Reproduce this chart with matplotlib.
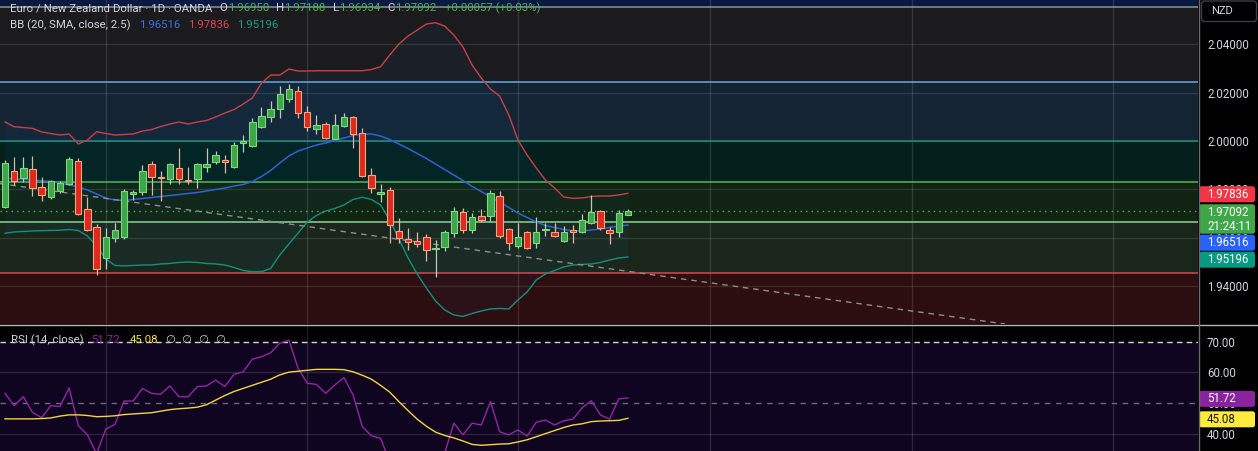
import matplotlib
matplotlib.use("Agg")
import matplotlib.pyplot as plt
import numpy as np
from matplotlib.lines import Line2D
from matplotlib.patches import FancyBboxPatch
from matplotlib.transforms import IdentityTransform

plt.rcParams["font.family"] = ["Roboto", "DejaVu Sans"]

# ---- daily EUR/NZD candles (oldest -> newest) ----
opens = [1.97280, 1.98770, 1.98456, 1.98828, 1.98083, 1.97694, 1.97942, 1.98207, 1.99184, 1.97172,
         1.96427, 1.95144, 1.95997, 1.96038, 1.97806, 1.97901, 1.99035, 1.98510, 1.98414, 1.98870,
         1.98385, 1.98414, 1.98903, 1.99151, 1.99213, 1.98911, 1.99905, 1.99793, 2.00580, 2.01006,
         2.01312, 2.01726, 2.02070, 2.01213, 2.00509, 2.00704, 2.00095, 2.00633, 2.00981, 2.00319,
         1.98605, 1.97806, 1.97971, 1.96286, 1.95922, 1.95860, 1.96013, 1.95541, 1.95599, 1.96179,
         1.97048, 1.96328, 1.96883, 1.96883, 1.97711, 1.96344, 1.95665, 1.96220, 1.95765, 1.96328,
         1.96220, 1.95872, 1.96315, 1.96220, 1.96618, 1.97089, 1.96303, 1.96220, 1.96950]
highs = [1.99213, 1.99325, 1.99325, 1.99379, 1.98522, 1.98385, 1.98356, 1.99350, 1.99284, 1.97669,
         1.96564, 1.96386, 1.96618, 1.98013, 1.97971, 1.99006, 1.99172, 1.98770, 1.99102, 1.99698,
         1.98936, 1.99077, 1.99710, 1.99586, 1.99420, 1.99971, 2.00248, 2.00940, 2.01420, 2.01668,
         2.02277, 2.02360, 2.02277, 2.01449, 2.01076, 2.00799, 2.01118, 2.01147, 2.01035, 2.00526,
         1.98870, 1.98207, 1.98083, 1.96800, 1.96386, 1.96233, 1.96150, 1.95901, 1.96315, 1.97255,
         1.97214, 1.97007, 1.97172, 1.97971, 1.97930, 1.96386, 1.96618, 1.96286, 1.96841, 1.96618,
         1.96593, 1.96481, 1.96522, 1.96978, 1.97777, 1.97143, 1.96452, 1.97143, 1.97188]
lows = [1.97226, 1.98178, 1.98315, 1.97723, 1.97516, 1.97611, 1.97860, 1.98166, 1.96936, 1.96286,
        1.94452, 1.94688, 1.95831, 1.95955, 1.97557, 1.97764, 1.97764, 1.97528, 1.98207, 1.98207,
        1.98207, 1.98042, 1.98729, 1.99048, 1.98663, 1.98870, 1.99557, 1.99764, 2.00551, 2.00799,
        2.00940, 2.01627, 2.00940, 2.00426, 2.00290, 2.00070, 2.00070, 2.00567, 1.99698, 1.98497,
        1.97835, 1.97487, 1.95765, 1.95790, 1.95487, 1.95624, 1.95044, 1.94382, 1.95458, 1.96013,
        1.96204, 1.96204, 1.96659, 1.96700, 1.95997, 1.95487, 1.95558, 1.95529, 1.95558, 1.96067,
        1.96013, 1.95831, 1.95790, 1.96179, 1.96564, 1.96315, 1.95723, 1.96038, 1.96934]
closes = [1.99101, 1.98356, 1.98870, 1.98042, 1.97752, 1.98332, 1.98249, 1.99242, 1.96978, 1.96315,
          1.94688, 1.96038, 1.96315, 1.97930, 1.97901, 1.98770, 1.98497, 1.98468, 1.99035, 1.98414,
          1.98344, 1.99035, 1.99040, 1.99408, 1.99118, 1.99822, 2.00000, 2.00774, 2.01035, 2.01312,
          2.01933, 2.02140, 2.01172, 2.00567, 2.00650, 2.00137, 2.00650, 2.00981, 2.00290, 1.98563,
          1.98042, 1.97876, 1.96522, 1.95972, 1.95831, 1.95727, 1.95475, 1.95583, 1.96233, 1.97089,
          1.96328, 1.96841, 1.96742, 1.97835, 1.96055, 1.95765, 1.96013, 1.95583, 1.96220, 1.96357,
          1.96055, 1.96220, 1.96245, 1.96717, 1.97048, 1.96386, 1.96204, 1.97007, 1.97092]

# ---- Bollinger Bands (20, SMA, close, 2.5) ----
bb_upper = [2.00787, 2.00592, 2.00559, 2.00526, 2.00373, 2.00311, 2.00248, 2.00290, 1.99876, 2.00041,
            2.00385, 2.00311, 2.00248, 2.00269, 2.00290, 2.00414, 2.00476, 2.00600, 2.00704, 2.00787,
            2.00704, 2.00787, 2.00849, 2.00994, 2.01159, 2.01304, 2.01532, 2.01780, 2.02401, 2.02732,
            2.02732, 2.02981, 2.02898, 2.02898, 2.02910, 2.02910, 2.02910, 2.02910, 2.02910, 2.02910,
            2.02960, 2.03076, 2.03560, 2.04016, 2.04347, 2.04595, 2.04844, 2.04898, 2.04761, 2.04388,
            2.03892, 2.03146, 2.02608, 2.02153, 2.01863, 2.01076, 2.00041, 1.99420, 1.98882, 1.98385,
            1.98054, 1.97682, 1.97628, 1.97640, 1.97702, 1.97723, 1.97723, 1.97764, 1.97836]
bb_basis = [1.98468, 1.98427, 1.98406, 1.98385, 1.98356, 1.98323, 1.98261, 1.98178, 1.98096, 1.97971,
            1.97806, 1.97640, 1.97557, 1.97537, 1.97578, 1.97620, 1.97661, 1.97702, 1.97744, 1.97785,
            1.97827, 1.97868, 1.97930, 1.97992, 1.98054, 1.98137, 1.98199, 1.98323, 1.98530, 1.98779,
            1.99089, 1.99379, 1.99586, 1.99710, 1.99834, 1.99917, 2.00021, 2.00124, 2.00228, 2.00290,
            2.00290, 2.00207, 2.00062, 1.99876, 1.99689, 1.99482, 1.99275, 1.99048, 1.98820, 1.98592,
            1.98365, 1.98116, 1.97909, 1.97682, 1.97474, 1.97247, 1.97019, 1.96833, 1.96646, 1.96501,
            1.96418, 1.96336, 1.96274, 1.96274, 1.96315, 1.96357, 1.96418, 1.96481, 1.96516]
bb_lower = [1.96179, 1.96233, 1.96253, 1.96274, 1.96286, 1.96295, 1.96303, 1.96336, 1.96295, 1.96067,
            1.95653, 1.95115, 1.94846, 1.94825, 1.94846, 1.94866, 1.94866, 1.94908, 1.94929, 1.94970,
            1.94991, 1.94970, 1.94929, 1.94908, 1.94866, 1.94763, 1.94639, 1.94589, 1.94589, 1.94722,
            1.95280, 1.95736, 1.96191, 1.96646, 1.96916, 1.97102, 1.97206, 1.97350, 1.97578, 1.97669,
            1.97578, 1.97350, 1.96729, 1.95943, 1.95156, 1.94494, 1.93914, 1.93376, 1.93003, 1.92796,
            1.92734, 1.92858, 1.92962, 1.93045, 1.93066, 1.93045, 1.93417, 1.93749, 1.94245, 1.94494,
            1.94639, 1.94784, 1.94866, 1.94887, 1.94908, 1.94970, 1.95073, 1.95156, 1.95196]

# ---- RSI (14, close) and its moving average ----
rsi = [53.2, 49.2, 52.1, 47.0, 45.3, 49.2, 48.9, 55.0, 42.7, 39.7,
       33.5, 41.6, 43.1, 50.7, 50.7, 54.8, 53.2, 52.9, 55.6, 52.1,
       52.1, 55.4, 55.6, 57.5, 55.4, 59.4, 60.2, 64.3, 65.1, 66.4,
       69.5, 70.5, 61.3, 56.5, 56.1, 53.2, 55.9, 58.3, 52.7, 42.4,
       39.4, 38.6, 31.0, 29.5, 28.8, 28.2, 26.8, 28.0, 33.8, 43.5,
       39.7, 43.5, 42.9, 50.5, 40.7, 39.7, 41.3, 39.3, 43.8, 44.5,
       42.9, 44.3, 44.8, 48.5, 50.8, 46.2, 44.8, 51.4, 51.72]
rsi_ma = [44.9, 44.9, 44.9, 44.9, 45.0, 45.2, 45.8, 46.2, 46.2, 46.0,
          45.6, 45.7, 45.9, 46.3, 46.5, 46.7, 46.9, 47.4, 47.9, 48.2,
          48.4, 48.7, 49.5, 51.0, 52.5, 53.8, 54.8, 55.8, 56.8, 57.8,
          59.2, 60.1, 60.4, 60.7, 61.0, 61.0, 61.0, 60.9, 60.2, 59.1,
          57.8, 55.8, 53.6, 50.5, 47.6, 44.8, 42.5, 40.6, 39.5, 38.7,
          37.7, 36.6, 36.3, 36.5, 36.7, 36.8, 37.4, 38.1, 39.1, 40.1,
          41.1, 42.1, 42.9, 43.3, 44.0, 44.2, 44.3, 44.4, 45.08]

# ---- drawings on the chart ----
zone_levels = [2.0555, 2.0243, 2.0000, 1.9832, 1.9665, 1.9453]
zone_line_colors = ["#8e9099", "#6aa8e4", "#1f9080", "#56b656", "#8fd58f", "#d9474a"]
zone_fill_colors = ["#0a1940", "#1b1b1d", "#142433", "#03201d", "#112312", "#1a261b", "#2c0d10"]
trend_start = (0, 1.98207)
trend_end = (108, 1.92484)
month_starts = [11, 33, 56, 77, 99, 121]
price_ticks = [2.04, 2.02, 2.00, 1.98, 1.96, 1.94]
rsi_ticks = [70, 60, 50, 40]
change_abs = 0.00057
change_pct = 0.03
countdown = "21:24:11"

W, H = 1258, 451
AXIS_X = 1198
GRAY = "#d1d4dc"
GREEN = "#4caf50"

fig = plt.figure(figsize=(W / 100, H / 100), dpi=100, facecolor="#000000")
ax = fig.add_axes([0, (H - 324) / H, AXIS_X / W, 324 / H])
rsi_ax = fig.add_axes([0, 0, AXIS_X / W, (H - 326) / H])

idx = np.arange(len(closes))
o = np.array(opens)
c = np.array(closes)
rising = c >= o

# zones
bounds = [3.0] + zone_levels + [0.0]
for k, fc in enumerate(zone_fill_colors):
    ax.axhspan(bounds[k + 1], bounds[k], color=fc, lw=0, zorder=0)
for level, lc in zip(zone_levels, zone_line_colors):
    ax.axhline(level, color=lc, lw=1.1, zorder=2)

for p in price_ticks:
    ax.axhline(p, color="white", alpha=0.1, lw=1, zorder=1)
for m in month_starts:
    ax.axvline(m, color="white", alpha=0.12, lw=1, zorder=1)
    rsi_ax.axvline(m, color="white", alpha=0.12, lw=1, zorder=1)

# bollinger
ax.fill_between(idx, bb_lower, bb_upper, color="#2196f3", alpha=0.045, lw=0, zorder=2)
ax.plot(idx, bb_upper, color="#c8404c", lw=1, zorder=3)
ax.plot(idx, bb_basis, color="#2c63d6", lw=1.1, zorder=3)
ax.plot(idx, bb_lower, color="#12907c", lw=1, zorder=3)

ax.axline(trend_start, trend_end, color="#8d8d8d", lw=1, ls=(0, (4, 3.5)), zorder=3)
ax.axhline(closes[-1], color=GREEN, lw=1, ls=(0, (1, 3)), zorder=3)

# candles
wick_cols = ["#b9cdb9" if r else "#dcb4a8" for r in rising]
body_cols = ["#3da64a" if r else "#dc2a1f" for r in rising]
edge_cols = ["#7fd67f" if r else "#f6a47c" for r in rising]
ax.vlines(idx, lows, highs, colors=wick_cols, lw=0.9, zorder=4)
ax.bar(idx, np.maximum(np.abs(c - o), 0.00005), bottom=np.minimum(o, c), width=0.7,
       color=body_cols, edgecolor=edge_cols, linewidth=0.8, zorder=5)

ax.set_xlim(-0.546, 130.24)
ax.set_ylim(1.92422, 2.05839)
ax.yaxis.tick_right()
ax.set_yticks(price_ticks)
ax.set_yticklabels([f"{p:.5f}" for p in price_ticks])
ax.set_xticks([])

# RSI panel
rsi_ax.set_facecolor("#000000")
rsi_ax.axhspan(30, 70, color="#100520", lw=0, zorder=0)
for r in (60, 40):
    rsi_ax.axhline(r, color="white", alpha=0.13, lw=1, zorder=1)
rsi_ax.axhline(70, color="#d4d4d4", lw=1, ls=(0, (4, 3)), zorder=2)
rsi_ax.axhline(50, color="#6e6878", lw=1, ls=(0, (4, 4)), zorder=2)
rsi_ax.plot(idx, rsi, color="#9027a8", lw=1, zorder=3)
rsi_ax.plot(idx, rsi_ma, color="#f0d640", lw=1, zorder=4)
rsi_ax.set_xlim(-0.546, 130.24)
rsi_ax.set_ylim(34.45, 75.1)
rsi_ax.yaxis.tick_right()
rsi_ax.set_yticks(rsi_ticks)
rsi_ax.set_yticklabels([f"{r:.2f}" for r in rsi_ticks])
rsi_ax.set_xticks([])

for a in (ax, rsi_ax):
    for s in a.spines.values():
        s.set_visible(False)
    a.tick_params(axis="y", length=0, pad=6.5, labelsize=8.3, labelcolor=GRAY)

# separators
ident = IdentityTransform()
fig.add_artist(Line2D([0, W], [H - 325, H - 325], transform=ident, color="#b4b4b4", lw=1))
fig.add_artist(Line2D([AXIS_X + 0.5, AXIS_X + 0.5], [0, H], transform=ident, color="#6a6a6a", lw=1))

# NZD badge
fig.add_artist(FancyBboxPatch((1201.5, H - 21.5), 55, 20.5, boxstyle="round,pad=0,rounding_size=3",
                              transform=ident, fc="#000000", ec="#3a3d45", lw=1))
fig.text(1221.5, H - 11, "NZD", transform=ident, color=GRAY, fontsize=8, ha="center", va="center")


# value tags on the price scale, stacked like the trading screen does
def draw_tags(axis, tags):
    prev_bottom = -1e9
    for value, label, face, ink, extra in tags:
        y = H - axis.transData.transform((0, value))[1]
        height = 29.5 if extra else 16
        top = max(y - 7, prev_bottom + 1)
        fig.add_artist(FancyBboxPatch((AXIS_X + 1, H - top - height), 56, height,
                                      boxstyle="round,pad=0,rounding_size=2.5",
                                      transform=ident, fc=face, ec="none"))
        fig.text(1207, H - top - 8, label, transform=ident, color=ink, fontsize=8.3, va="center")
        if extra:
            fig.text(1207, H - top - 22, extra, transform=ident, color=ink, fontsize=8.3, va="center")
        prev_bottom = top + height


draw_tags(ax, [
    (bb_upper[-1], f"{bb_upper[-1]:.5f}", "#f23645", "white", None),
    (closes[-1], f"{closes[-1]:.5f}", "#3fa748", "white", countdown),
    (bb_basis[-1], f"{bb_basis[-1]:.5f}", "#2962ff", "white", None),
    (bb_lower[-1], f"{bb_lower[-1]:.5f}", "#089981", "white", None),
])
draw_tags(rsi_ax, [
    (rsi[-1], f"{rsi[-1]:.2f}", "#8a249e", "white", None),
    (rsi_ma[-1], f"{rsi_ma[-1]:.2f}", "#ffeb3b", "#131313", None),
])

renderer = fig.canvas.get_renderer()


def draw_segments(x, y_top, parts, size=8.2):
    for text, color, gap in parts:
        x += gap
        t = fig.text(x, H - y_top, text, transform=ident, color=color, fontsize=size,
                     ha="left", va="center")
        x = t.get_window_extent(renderer).x1


draw_segments(10, 8, [
    ("Euro / New Zealand Dollar · 1D · OANDA", GRAY, 0),
    ("O", GRAY, 7), (f"{opens[-1]:.5f}", GREEN, 0.5),
    ("H", GRAY, 7), (f"{highs[-1]:.5f}", GREEN, 0.5),
    ("L", GRAY, 7), (f"{lows[-1]:.5f}", GREEN, 0.5),
    ("C", GRAY, 7), (f"{closes[-1]:.5f}", GREEN, 0.5),
    (f"+{change_abs:.5f} (+{change_pct:.2f}%)", GREEN, 8),
])
draw_segments(10, 25, [
    ("BB (20, SMA, close, 2.5)", GRAY, 0),
    (f"{bb_basis[-1]:.5f}", "#3a6ee6", 8),
    (f"{bb_upper[-1]:.5f}", "#e0434f", 8),
    (f"{bb_lower[-1]:.5f}", "#14a08a", 8),
])
draw_segments(11, 340, [
    ("RSI (14, close)", GRAY, 0),
    (f"{rsi[-1]:.2f}", "#8e24aa", 8),
    (f"{rsi_ma[-1]:.2f}", "#f5e04a", 9),
    ("∅", "#c8c8c8", 7), ("∅", "#c8c8c8", 7), ("∅", "#c8c8c8", 7), ("∅", "#c8c8c8", 7),
])

fig.savefig("out.png", dpi=100, facecolor=fig.get_facecolor())
